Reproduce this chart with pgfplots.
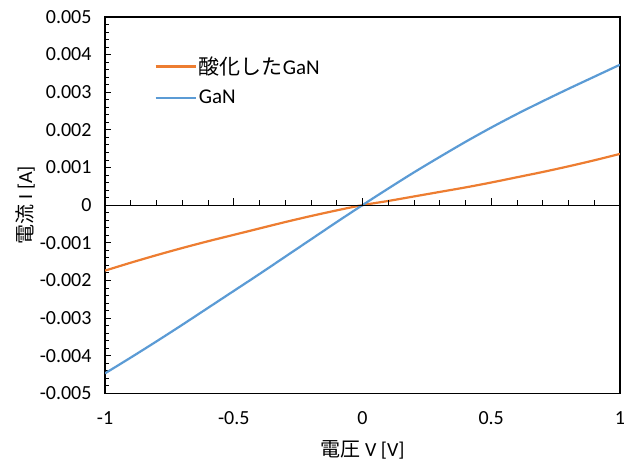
\documentclass[border=0pt]{standalone}
\usepackage{fontspec}
\setmainfont{Carlito}
\newfontfamily\jp{Noto Sans CJK JP}
\usepackage{pgfplots}
\pgfplotsset{compat=1.18}
\definecolor{oxi}{HTML}{ED7D31}
\definecolor{gan}{HTML}{5B9BD5}

% I-V curves
\pgfplotstableread{
v i
-1.0 -0.00174
-0.9 -0.00153
-0.8 -0.00133
-0.7 -0.00114
-0.6 -0.00096
-0.5 -0.00079
-0.4 -0.00062
-0.3 -0.00045
-0.2 -0.00029
-0.1 -0.00014
0.0 0.00000
0.1 0.00011
0.2 0.00023
0.3 0.00035
0.4 0.00047
0.5 0.00060
0.6 0.00074
0.7 0.00088
0.8 0.00103
0.9 0.00119
1.0 0.00136
}\oxidized

\pgfplotstableread{
v i
-1.0 -0.00447
-0.9 -0.00405
-0.8 -0.00362
-0.7 -0.00318
-0.6 -0.00273
-0.5 -0.00228
-0.4 -0.00183
-0.3 -0.00137
-0.2 -0.00091
-0.1 -0.00045
0.0 0.00000
0.1 0.00044
0.2 0.00087
0.3 0.00128
0.4 0.00168
0.5 0.00206
0.6 0.00242
0.7 0.00276
0.8 0.00309
0.9 0.00341
1.0 0.00373
}\plain

\begin{document}
\begin{tikzpicture}
\begin{axis}[
  name=main,
  scale only axis,
  width=513bp,height=375bp,
  xmin=-1,xmax=1,ymin=-0.005,ymax=0.005,
  axis line style={line width=1.2bp,black},
  xtick={-1,-0.5,0,0.5,1},
  xtick pos=bottom,
  major x tick style={draw=none},
  ytick={-0.005,-0.004,...,0.0051},
  minor y tick num=4,
  ytick pos=left,
  tick align=inside,
  major tick length=6bp,minor tick length=4bp,
  tick style={black,line width=0.8bp},
  scaled y ticks=false,
  /pgf/number format/fixed,
  /pgf/number format/precision=3,
  /pgf/number format/assume math mode=true,
  tick label style={font=\fontsize{20}{24}\selectfont},
  xticklabel style={yshift=-15bp,inner xsep=0bp},
  yticklabel style={xshift=-10bp},
  xlabel={{\jp 電圧} V [V]},
  ylabel={{\jp 電流} I [A]},
  label style={font=\fontsize{20}{24}\selectfont},
  xlabel style={yshift=-9bp},
  ylabel style={yshift=-2bp},
  legend cell align=left,
  legend style={draw=none,fill=none,at={(0.09,0.905)},anchor=north west,
    font=\fontsize{21}{25}\selectfont,row sep=10bp},
  legend image code/.code={\draw[#1,line width=2.2bp] (0bp,0bp) -- (40bp,0bp);},
]
\addplot[oxi,line width=2.2bp,smooth] table[x=v,y=i] {\oxidized};
\addlegendentry{{\jp 酸化した}GaN}
\addplot[gan,line width=2.2bp,smooth] table[x=v,y=i] {\plain};
\addlegendentry{GaN}
\end{axis}
\begin{axis}[
  at={(main.south west)},anchor=south west,
  scale only axis,
  width=513bp,height=375bp,
  xmin=-1,xmax=1,ymin=-0.005,ymax=0.005,
  axis x line=middle,axis y line=none,
  axis line style={-,line width=1.2bp,black},
  xtick={-1,-0.5,0,0.5,1},minor x tick num=4,
  xticklabels={},
  tick align=inside,
  major tick length=7bp,minor tick length=5bp,
  tick style={black,line width=0.8bp},
]
\end{axis}
% blank margin at the left and top, as in the reference
\path (current bounding box.north west) ++(-12bp,7bp);
\end{tikzpicture}
\end{document}
